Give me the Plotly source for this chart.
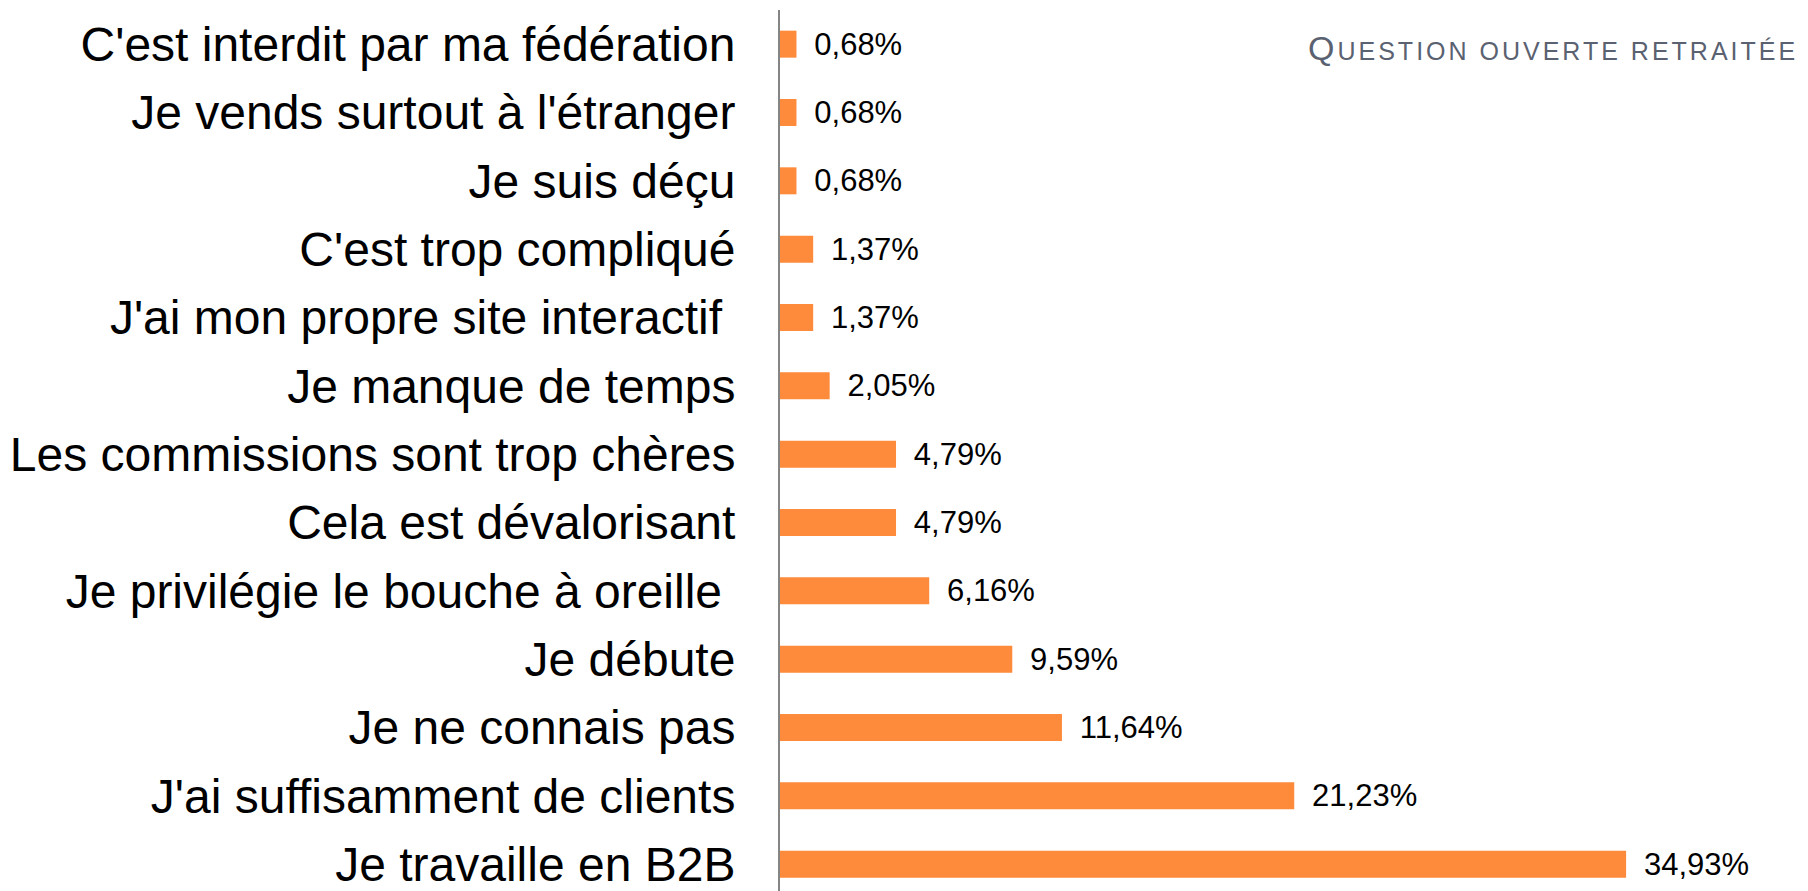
import plotly.graph_objects as go

categories = [
    "C'est interdit par ma fédération",
    "Je vends surtout à l'étranger",
    "Je suis déçu",
    "C'est trop compliqué",
    "J'ai mon propre site interactif\u00a0",
    "Je manque de temps",
    "Les commissions sont trop chères",
    "Cela est dévalorisant",
    "Je privilégie le bouche à oreille\u00a0",
    "Je débute",
    "Je ne connais pas",
    "J'ai suffisamment de clients",
    "Je travaille en B2B",
]
values = [0.68, 0.68, 0.68, 1.37, 1.37, 2.05, 4.79, 4.79, 6.16, 9.59, 11.64, 21.23, 34.93]
labels = [f"{v:.2f}".replace(".", ",") + "%" for v in values]
title_text = ("<span style='letter-spacing:3px'>Q"
              "<span style='font-size:25px'>UESTION OUVERTE RETRAITÉE</span></span>")

# the page body adds an 8px offset; the figure is sized so that it fills the window
W, H = 1800, 883
L, T = 772, 2

fig = go.Figure(go.Bar(
    x=values,
    y=categories,
    orientation="h",
    marker=dict(color="#FE8A3B", line=dict(width=0)),
    text=labels,
    texttemplate="\u00a0\u2009%{text}",
    textposition="outside",
    constraintext="none",
    cliponaxis=False,
    textfont=dict(family="Liberation Sans, Arial", size=31, color="#000000"),
))

fig.update_layout(
    width=W, height=H,
    margin=dict(l=L, r=0, t=T, b=0, autoexpand=False),
    paper_bgcolor="white", plot_bgcolor="white",
    bargap=0.605,
    showlegend=False,
    font=dict(family="Liberation Sans, Arial", color="#000000"),
    xaxis=dict(visible=False, range=[0, 42.44], fixedrange=True),
    yaxis=dict(
        type="category",
        range=[12.393, -0.5],
        showline=True, linecolor="#858585", linewidth=2,
        showgrid=False, zeroline=False, ticks="",
        ticklabelstandoff=33,
        tickfont=dict(family="Liberation Sans, Arial", size=48, color="#000000"),
        automargin=False,
    ),
    annotations=[dict(
        text=title_text,
        xref="paper", yref="paper",
        x=0.9922, y=0.957, xanchor="right", yanchor="middle",
        showarrow=False,
        font=dict(family="Liberation Sans, Arial", size=34, color="#5A6170"),
    )],
)

fig.write_html("out.html")
